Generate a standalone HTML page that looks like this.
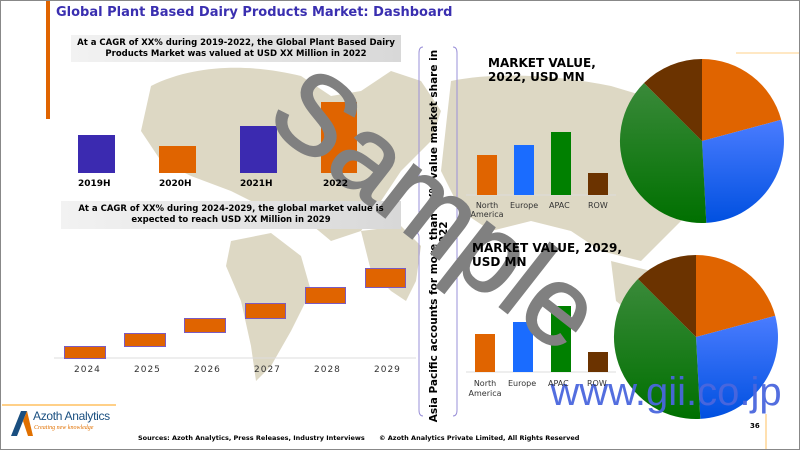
<!DOCTYPE html>
<html><head><meta charset="utf-8"><style>
body{margin:0;}
#c{position:relative;width:798px;height:448px;border:1px solid #888;background:#fff;overflow:hidden;font-family:"DejaVu Sans","Liberation Sans",sans-serif;}
.a{position:absolute;}
.b{font-weight:bold;}
</style></head><body><div id="c">
<svg class="a" style="left:0;top:0" width="798" height="448">
<g fill="#ddd8c4">
<path d="M150,85 C200,60 260,65 300,75 L330,95 L360,90 L390,70 L420,80 L440,110 L430,140 L400,170 L380,200 L360,230 L330,240 L300,215 L260,205 L230,190 L190,175 L160,160 L140,130 Z"/>
<path d="M230,240 L270,232 L300,255 L310,290 L290,330 L270,365 L255,380 L250,345 L240,300 L225,265 Z"/>
<path d="M360,230 L400,225 L420,245 L415,280 L405,300 L390,290 L370,270 Z"/>
<path d="M450,80 C500,70 560,75 610,85 L660,100 L700,120 L720,160 L700,200 L670,230 L640,260 L600,250 L570,230 L530,220 L490,230 L460,210 L440,170 Z"/>
<path d="M610,260 L650,270 L690,290 L700,320 L670,330 L640,320 L615,300 Z"/>
</g>
<rect x="45" y="0" width="4" height="118" fill="#e06400"/>
<defs><linearGradient id="gb" x1="0" x2="1"><stop offset="0" stop-color="#f2f2f2"/><stop offset="1" stop-color="#d8d8d8"/></linearGradient>
<linearGradient id="bl" x1="0" y1="0" x2="0" y2="1"><stop offset="0" stop-color="#4a7cff"/><stop offset="1" stop-color="#0050e0"/></linearGradient>
<linearGradient id="gr" x1="0" y1="0" x2="0" y2="1"><stop offset="0" stop-color="#3a8a3a"/><stop offset="1" stop-color="#007000"/></linearGradient></defs>
<rect x="70" y="34" width="330" height="27" fill="url(#gb)"/>
<rect x="60" y="200" width="340" height="28" fill="url(#gb)"/>
<rect x="77" y="134" width="37" height="38" fill="#3b2ab0"/>
<rect x="158" y="145" width="37" height="27" fill="#e06400"/>
<rect x="239" y="125" width="37" height="47" fill="#3b2ab0"/>
<rect x="320" y="101" width="36" height="71" fill="#e06400"/>
<line x1="53" y1="357" x2="415" y2="357" stroke="#ddd"/>
<g fill="#e06400" stroke="#7b5bc0" stroke-width="1">
<rect x="63.5" y="345.5" width="41" height="12"/><rect x="123.5" y="332.5" width="41" height="13"/>
<rect x="183.5" y="317.5" width="41" height="14"/><rect x="244.5" y="302.5" width="40" height="15"/>
<rect x="304.5" y="286.5" width="40" height="16"/><rect x="364.5" y="267.5" width="40" height="19"/></g>
<path d="M422,46 Q418,46 418,52 L418,228 Q418,232 415,232 Q418,232 418,236 L418,409 Q418,415 422,415" fill="none" stroke="#9a90d8" stroke-width="1"/>
<path d="M452,46 Q456,46 456,52 L456,409 Q456,415 452,415" fill="none" stroke="#9a90d8" stroke-width="1"/>
<line x1="465" y1="194" x2="615" y2="194" stroke="#ddd"/>
<rect x="476" y="154" width="20" height="40" fill="#e06400"/><rect x="513" y="144" width="20" height="50" fill="#1a6cff"/>
<rect x="550" y="131" width="20" height="63" fill="#008000"/><rect x="587" y="172" width="20" height="22" fill="#6b3300"/>
<line x1="465" y1="371" x2="615" y2="371" stroke="#ddd"/>
<rect x="474" y="333" width="20" height="38" fill="#e06400"/><rect x="512" y="321" width="20" height="50" fill="#1a6cff"/>
<rect x="550" y="305" width="20" height="66" fill="#008000"/><rect x="587" y="351" width="20" height="20" fill="#6b3300"/>
<line x1="735" y1="52" x2="798" y2="52" stroke="#ffd08a"/>
<path d="M701,140 L701,58 A82,82 0 0,1 780.2,118.8 Z" fill="#e06400"/>
<path d="M701,140 L780.2,118.8 A82,82 0 0,1 705.3,221.9 Z" fill="url(#bl)"/>
<path d="M701,140 L705.3,221.9 A82,82 0 0,1 643,82 Z" fill="url(#gr)"/>
<path d="M701,140 L643,82 A82,82 0 0,1 701,58 Z" fill="#6b3300"/>
<path d="M695,336 L695,254 A82,82 0 0,1 774.2,314.8 Z" fill="#e06400"/>
<path d="M695,336 L774.2,314.8 A82,82 0 0,1 699.3,417.9 Z" fill="url(#bl)"/>
<path d="M695,336 L699.3,417.9 A82,82 0 0,1 637,278 Z" fill="url(#gr)"/>
<path d="M695,336 L637,278 A82,82 0 0,1 695,254 Z" fill="#6b3300"/>
<line x1="1" y1="404" x2="115" y2="404" stroke="#ffc060" stroke-width="1.5"/>
<line x1="765" y1="413" x2="765" y2="448" stroke="#ffc060"/>
<path d="M10,435 L20,410 L26,410 L16,435 Z" fill="#1a4f80"/><path d="M22,420 L26,410 L32,435 L27,435 Z" fill="#e07000"/>
<text x="436" y="235" transform="rotate(-90 436 235)" text-anchor="middle" font-size="10.5" font-weight="bold" font-family="DejaVu Sans,sans-serif">Asia Pacific accounts for more than XX% value market share in</text>
<text x="446" y="235" transform="rotate(-90 446 235)" text-anchor="middle" font-size="10.5" font-weight="bold" font-family="DejaVu Sans,sans-serif">2022</text>
<text x="412" y="238" transform="rotate(38 412 238)" text-anchor="middle" font-size="112" fill="#808080" stroke="#808080" stroke-width="2" font-family="Liberation Sans,sans-serif">Sample</text>
<text x="665" y="404" text-anchor="middle" font-size="40" fill="#4a66dd" fill-opacity="0.95" font-family="Liberation Sans,sans-serif">www.gii.co.jp</text>
</svg>
<div class="a b" style="left:55px;top:4px;font-size:13px;color:#3a2fb0">Global Plant Based Dairy Products Market: Dashboard</div>
<div class="a b" style="left:70px;top:37px;width:330px;text-align:center;font-size:8.5px;line-height:11px">At a CAGR of XX% during 2019-2022, the Global Plant Based Dairy<br>Products Market was valued at USD XX Million in 2022</div>
<div class="a b" style="left:60px;top:203px;width:340px;text-align:center;font-size:8.5px;line-height:11px">At a CAGR of XX% during 2024-2029, the global market value is<br>expected to reach USD XX Million in 2029</div>
<div class="a b" style="left:77px;top:178px;font-size:9px">2019H</div>
<div class="a b" style="left:158px;top:178px;font-size:9px">2020H</div>
<div class="a b" style="left:239px;top:178px;font-size:9px">2021H</div>
<div class="a b" style="left:322px;top:178px;font-size:9px">2022</div>
<div class="a" style="left:63px;top:364px;width:350px;font-size:9px;color:#333;letter-spacing:1px">
<span class="a" style="left:10px">2024</span><span class="a" style="left:70px">2025</span><span class="a" style="left:130px">2026</span><span class="a" style="left:190px">2027</span><span class="a" style="left:250px">2028</span><span class="a" style="left:310px">2029</span></div>
<div class="a b" style="left:487px;top:55px;font-size:12px;line-height:14px">MARKET VALUE,<br>2022, USD MN</div>
<div class="a b" style="left:471px;top:240px;font-size:12px;line-height:14px">MARKET VALUE, 2029,<br>USD MN</div>
<div class="a" style="left:466px;top:200px;font-size:8px;line-height:9px;color:#333;width:40px;text-align:center">North<br>America</div>
<div class="a" style="left:509px;top:200px;font-size:8px;color:#333">Europe</div>
<div class="a" style="left:548px;top:200px;font-size:8px;color:#333">APAC</div>
<div class="a" style="left:587px;top:200px;font-size:8px;color:#333">ROW</div>
<div class="a" style="left:464px;top:378px;font-size:8px;line-height:10px;color:#333;width:40px;text-align:center">North<br>America</div>
<div class="a" style="left:507px;top:378px;font-size:8px;color:#333">Europe</div>
<div class="a" style="left:547px;top:378px;font-size:8px;color:#333">APAC</div>
<div class="a" style="left:586px;top:378px;font-size:8px;color:#333">ROW</div>
<div class="a" style="left:32px;top:408px;font-size:12px;color:#1a4f80;font-family:'Liberation Sans',sans-serif;letter-spacing:-0.3px">Azoth Analytics</div>
<div class="a" style="left:33px;top:424px;font-size:6px;color:#e07000;font-style:italic;font-family:'Liberation Serif',serif">Creating new knowledge</div>
<div class="a b" style="left:137px;top:433px;font-size:6.5px">Sources: Azoth Analytics, Press Releases, Industry Interviews</div>
<div class="a b" style="left:378px;top:433px;font-size:6.5px">© Azoth Analytics Private Limited, All Rights Reserved</div>
<div class="a b" style="left:749px;top:421px;font-size:7px">36</div>
</div></body></html>
